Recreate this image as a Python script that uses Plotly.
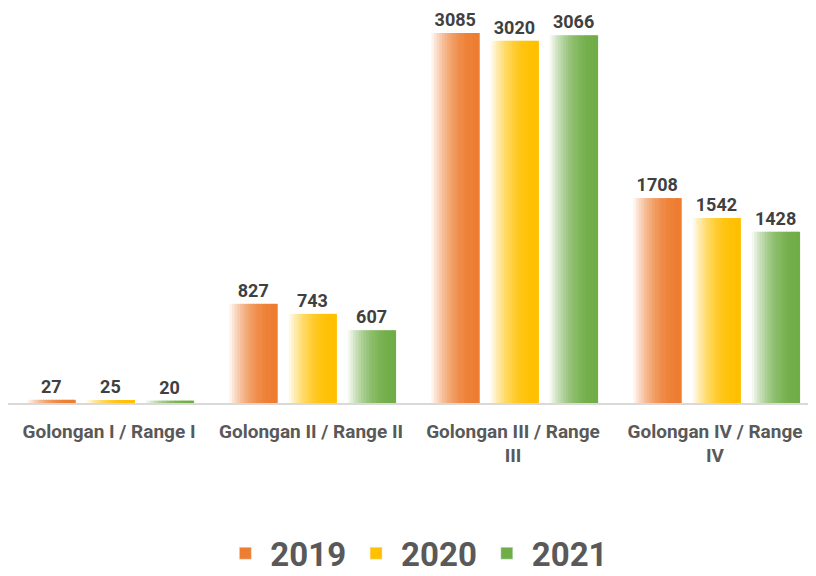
import plotly.graph_objects as go

categories = ["Golongan I / Range I", "Golongan II / Range II",
              "Golongan III / Range<br>III", "Golongan IV / Range<br>IV"]
years = ["2019", "2020", "2021"]
v2019 = [27, 827, 3085, 1708]
v2020 = [25, 743, 3020, 1542]
v2021 = [20, 607, 3066, 1428]
series_values = [v2019, v2020, v2021]
base_colors = [(237, 125, 49), (255, 192, 0), (112, 173, 71)]

BAR_W = 0.236
PITCH = 0.293
START = -0.404
K = 18

def mix(c, f):
    return "rgb(%d,%d,%d)" % tuple(round(255 + (ch - 255) * f) for ch in c)

fig = go.Figure()
for i, (yr, vals, col) in enumerate(zip(years, series_values, base_colors)):
    off0 = START + i * PITCH
    sw = BAR_W / K
    for k in range(K):
        t = (k + 0.5) / K
        f = 0.03 + 0.97 * (1 - (1 - t) ** 2.3)
        fig.add_trace(go.Bar(
            x=categories, y=vals, width=sw * 1.25, offset=off0 + k * sw,
            marker=dict(color=mix(col, f), line=dict(width=0)),
            showlegend=False, hoverinfo="skip", legendgroup=yr))
    fig.add_trace(go.Bar(
        x=categories, y=vals, width=BAR_W, offset=off0,
        marker=dict(color="rgba(0,0,0,0)", line=dict(width=0)),
        text=[str(v) for v in vals], textposition="outside",
        constraintext="none", cliponaxis=False,
        textfont=dict(family="Roboto", size=18, color="#404040", weight="bold"),
        showlegend=False, hoverinfo="skip"))
    fig.add_trace(go.Bar(
        x=[categories[0]], y=[None], name=yr,
        marker=dict(color=mix(col, 1.0)), legendgroup=yr, showlegend=True))

fig.update_layout(
    width=808, height=568,
    barmode="overlay",
    paper_bgcolor="white", plot_bgcolor="white",
    margin=dict(l=0, r=0, t=0, b=173, autoexpand=False),
    font=dict(family="Roboto", color="#595959"),
    xaxis=dict(showgrid=False, showline=True, linecolor="#d9d9d9", linewidth=1.5,
               ticks="", tickfont=dict(size=19, color="#595959", weight="bold"),
               tickangle=0, automargin=False, ticklabelstandoff=10),
    yaxis=dict(range=[0, 3293], visible=False, showgrid=False, automargin=False),
    legend=dict(orientation="h", x=0.506, xanchor="center", xref="container",
                y=0.04, yanchor="middle", yref="container",
                font=dict(size=33, color="#595959", weight="bold"),
                itemwidth=40, tracegroupgap=0),
    showlegend=True,
)

fig.write_html("out.html")
